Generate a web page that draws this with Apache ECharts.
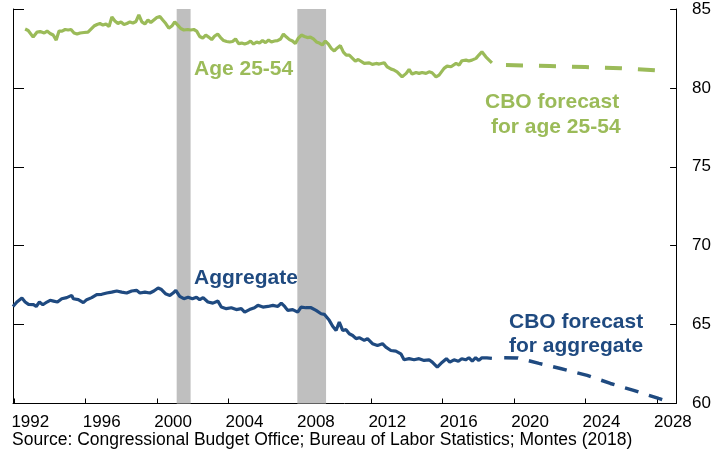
<!DOCTYPE html>
<html>
<head>
<meta charset="utf-8">
<script src="https://cdn.jsdelivr.net/npm/echarts@6/dist/echarts.min.js"></script>
<style>
html,body{margin:0;padding:0;background:#fff;}
#chart{width:714px;height:453px;}
</style>
</head>
<body>
<div id="chart"></div>
<script>
// ---- Data ----
var primeYears = [1992.61,1992.78,1993.06,1993.28,1993.45,1993.68,1993.84,1994.01,1994.18,1994.35,1994.51,1994.68,1994.85,1995.02,1995.18,1995.35,1995.52,1995.69,1995.91,1996.13,1996.30,1996.47,1996.64,1996.80,1996.97,1997.14,1997.31,1997.47,1997.64,1997.81,1997.98,1998.15,1998.31,1998.48,1998.65,1998.82,1998.98,1999.15,1999.32,1999.49,1999.65,1999.82,1999.99,2000.16,2000.32,2000.49,2000.66,2000.83,2000.99,2001.16,2001.33,2001.50,2001.72,2001.89,2002.06,2002.22,2002.39,2002.56,2002.73,2002.89,2003.06,2003.23,2003.40,2003.56,2003.73,2003.90,2004.07,2004.23,2004.40,2004.57,2004.74,2004.91,2005.07,2005.24,2005.41,2005.58,2005.74,2005.91,2006.08,2006.25,2006.41,2006.58,2006.75,2006.92,2007.08,2007.25,2007.42,2007.59,2007.75,2007.92,2008.09,2008.26,2008.42,2008.59,2008.76,2008.93,2009.09,2009.26,2009.43,2009.60,2009.77,2009.93,2010.10,2010.27,2010.44,2010.60,2010.77,2010.94,2011.11,2011.27,2011.61,2011.89,2012.06,2012.28,2012.45,2012.73,2012.89,2013.12,2013.28,2013.45,2013.73,2013.96,2014.12,2014.29,2014.51,2014.68,2014.85,2015.07,2015.24,2015.41,2015.63,2015.80,2016.08,2016.25,2016.47,2016.75,2016.92,2017.08,2017.31,2017.47,2017.64,2017.87,2018.03,2018.20,2018.42,2018.76];
var primeValues = [83.73,83.64,83.22,83.54,83.57,83.48,83.60,83.45,83.35,83.03,83.60,83.60,83.70,83.67,83.70,83.48,83.41,83.48,83.51,83.54,83.73,83.92,84.02,84.08,83.98,84.05,83.89,84.49,84.24,84.08,84.18,84.02,84.08,84.18,84.11,84.21,84.62,84.18,84.05,84.30,84.14,84.30,84.46,84.52,84.30,84.08,83.79,83.92,84.18,83.98,83.76,83.67,83.70,83.67,83.70,83.60,83.26,83.16,83.35,83.22,83.06,83.29,83.41,83.19,83.00,82.94,82.91,82.94,83.10,82.81,82.84,82.78,82.84,82.97,82.78,82.91,82.84,83.00,82.87,83.03,82.91,82.97,83.00,83.10,83.41,83.22,83.06,82.97,82.81,83.16,83.35,83.26,83.19,83.22,83.10,82.91,82.84,82.72,82.97,82.78,82.49,82.34,82.53,82.68,82.27,82.08,82.08,81.89,81.70,81.80,81.55,81.59,81.49,81.55,81.51,81.59,81.34,81.19,81.13,81.02,80.70,80.92,81.17,80.88,80.98,80.92,80.98,80.92,81.02,80.96,80.70,80.81,81.24,81.38,81.34,81.55,81.45,81.72,81.76,81.70,81.76,81.87,82.08,82.29,81.97,81.59];

var aggYears = [1991.93,1992.15,1992.43,1992.61,1992.80,1993.08,1993.23,1993.41,1993.60,1993.83,1994.01,1994.20,1994.42,1994.66,1994.94,1995.22,1995.31,1995.59,1995.87,1996.06,1996.34,1996.62,1996.90,1997.18,1997.46,1997.74,1998.02,1998.30,1998.58,1998.85,1999.04,1999.32,1999.60,1999.82,2000.06,2000.25,2000.47,2000.72,2000.90,2001.05,2001.27,2001.50,2001.74,2001.98,2002.21,2002.39,2002.58,2002.85,2003.13,2003.41,2003.60,2003.88,2004.16,2004.44,2004.72,2004.91,2005.18,2005.46,2005.65,2005.93,2006.21,2006.49,2006.77,2006.96,2007.15,2007.32,2007.60,2007.88,2008.07,2008.35,2008.63,2008.91,2009.19,2009.37,2009.65,2009.84,2010.03,2010.21,2010.40,2010.59,2010.77,2010.96,2011.15,2011.33,2011.61,2011.79,2012.07,2012.35,2012.63,2012.82,2013.10,2013.38,2013.66,2013.84,2014.12,2014.40,2014.68,2014.96,2015.24,2015.42,2015.70,2015.98,2016.21,2016.40,2016.64,2016.88,2017.07,2017.29,2017.47,2017.66,2017.85,2018.03,2018.20,2018.48,2018.76];
var aggValues = [66.15,66.43,66.68,66.43,66.28,66.26,66.15,66.43,66.26,66.43,66.54,66.49,66.43,66.64,66.71,66.85,66.64,66.58,66.39,66.58,66.71,66.90,66.92,67.00,67.06,67.13,67.06,67.00,67.13,67.17,67.00,67.06,67.00,67.13,67.32,67.22,66.96,66.85,67.00,67.17,66.79,66.64,66.74,66.64,66.74,66.58,66.71,66.43,66.36,66.49,66.11,66.01,66.07,65.95,66.01,65.79,65.95,66.07,66.22,66.11,66.15,66.22,66.15,66.36,66.15,65.90,65.95,65.79,66.11,66.07,66.07,65.90,65.69,65.65,65.27,64.89,64.63,65.16,64.63,64.68,64.42,64.31,64.11,64.17,64.00,64.11,63.79,63.68,63.79,63.57,63.36,63.32,63.15,62.77,62.84,62.77,62.84,62.73,62.77,62.62,62.30,62.62,62.84,62.62,62.77,62.68,62.84,62.77,62.90,62.68,62.90,62.73,62.90,62.89,62.86];

var primeFcYears = [2019.55, 2022.0, 2024.0, 2026.0, 2028.05];
var primeFcValues = [81.45, 81.38, 81.32, 81.25, 81.10];

var aggFcYears = [2019.45, 2020.2, 2021.4, 2022.6, 2024.1, 2025.4, 2026.7, 2028.1, 2028.55];
var aggFcValues = [62.90, 62.89, 62.54, 62.22, 61.78, 61.27, 60.83, 60.32, 60.16];

var recessions = [[2001.10, 2001.88], [2007.86, 2009.47]];

var tickYears = [1992,1996,2000,2004,2008,2012,2016,2020,2024,2028];
var yTicks = [60,65,70,75,80,85];

// ---- Chart ----
var GREEN = '#9BBB59';
var BLUE = '#1F4A80';
var FONT = '"Liberation Sans", Arial, sans-serif';
function zip(a, b) { return a.map(function (v, i) { return [v, b[i]]; }); }

var labelOffset = 0.9;
var chart = echarts.init(document.getElementById('chart'), null, {renderer: 'canvas'});
var option = {
  animation: false,
  backgroundColor: '#fff',
  textStyle: {fontFamily: FONT},
  grid: {left: 13, right: 36.5, top: 9, bottom: 49.5, containLabel: false},
  xAxis: {
    type: 'value', min: 1991.93, max: 2029.08,
    axisLine: {show: true, lineStyle: {color: '#000', width: 1}},
    axisTick: {show: true, inside: true, length: 5, customValues: tickYears, lineStyle: {color: '#000'}},
    axisLabel: {
      show: true, margin: 10, fontSize: 17, color: '#000', fontFamily: FONT,
      customValues: tickYears.map(function (y) { return y + labelOffset; }),
      formatter: function (v) { return String(Math.round(v - labelOffset)); }
    },
    splitLine: {show: false}
  },
  yAxis: [{
    type: 'value', position: 'right', min: 60, max: 85, interval: 5,
    axisLine: {show: true, lineStyle: {color: '#000', width: 1}},
    axisTick: {show: true, inside: true, length: 6, lineStyle: {color: '#000'}},
    axisLabel: {show: true, margin: 16, fontSize: 17, color: '#000', fontFamily: FONT, align: 'left'},
    splitLine: {show: false}
  }, {
    type: 'value', position: 'left', min: 60, max: 85, interval: 5,
    axisLine: {show: true, onZero: false, lineStyle: {color: '#000', width: 1}},
    axisTick: {show: true, inside: true, length: 11, lineStyle: {color: '#000'}},
    axisLabel: {show: false},
    splitLine: {show: false}
  }],
  series: [
    {
      type: 'line', data: [], z: 1, silent: true,
      markArea: {
        silent: true,
        itemStyle: {color: '#BFBFBF'},
        data: recessions.map(function (r) { return [{xAxis: r[0]}, {xAxis: r[1]}]; })
      }
    },
    {
      type: 'line', name: 'Age 25-54', data: zip(primeYears, primeValues), z: 3,
      showSymbol: false, lineStyle: {color: GREEN, width: 3.2}, itemStyle: {color: GREEN}
    },
    {
      type: 'line', name: 'Aggregate', data: zip(aggYears, aggValues), z: 3,
      showSymbol: false, lineStyle: {color: BLUE, width: 3.2}, itemStyle: {color: BLUE}
    },
    {
      type: 'line', name: 'CBO age 25-54', data: zip(primeFcYears, primeFcValues), z: 3,
      showSymbol: false, smooth: false,
      lineStyle: {color: GREEN, width: 4, type: [17, 16]}, itemStyle: {color: GREEN}
    },
    {
      type: 'line', name: 'CBO aggregate', data: zip(aggFcYears, aggFcValues), z: 3,
      showSymbol: false, smooth: false,
      lineStyle: {color: BLUE, width: 3.5, type: [14, 11]}, itemStyle: {color: BLUE}
    }
  ],
  graphic: [
    {type: 'text', left: 194, top: 59, style: {text: 'Age 25-54', fill: GREEN, fontFamily: FONT, fontWeight: 'bold', fontSize: 21}},
    {type: 'text', left: 194, top: 268, style: {text: 'Aggregate', fill: BLUE, fontFamily: FONT, fontWeight: 'bold', fontSize: 21}},
    {type: 'text', left: 485, top: 92, style: {text: 'CBO forecast', fill: GREEN, fontFamily: FONT, fontWeight: 'bold', fontSize: 21}},
    {type: 'text', left: 491, top: 117, style: {text: 'for age 25-54', fill: GREEN, fontFamily: FONT, fontWeight: 'bold', fontSize: 21}},
    {type: 'text', left: 509, top: 310, style: {text: 'CBO forecast\nfor aggregate', fill: BLUE, fontFamily: FONT, fontWeight: 'bold', fontSize: 21, lineHeight: 24}},
    {type: 'text', left: 12, top: 431, style: {text: 'Source: Congressional Budget Office; Bureau of Labor Statistics; Montes (2018)', fill: '#000', fontFamily: FONT, fontSize: 17.5}}
  ]
};
chart.setOption(option);
</script>
</body>
</html>
